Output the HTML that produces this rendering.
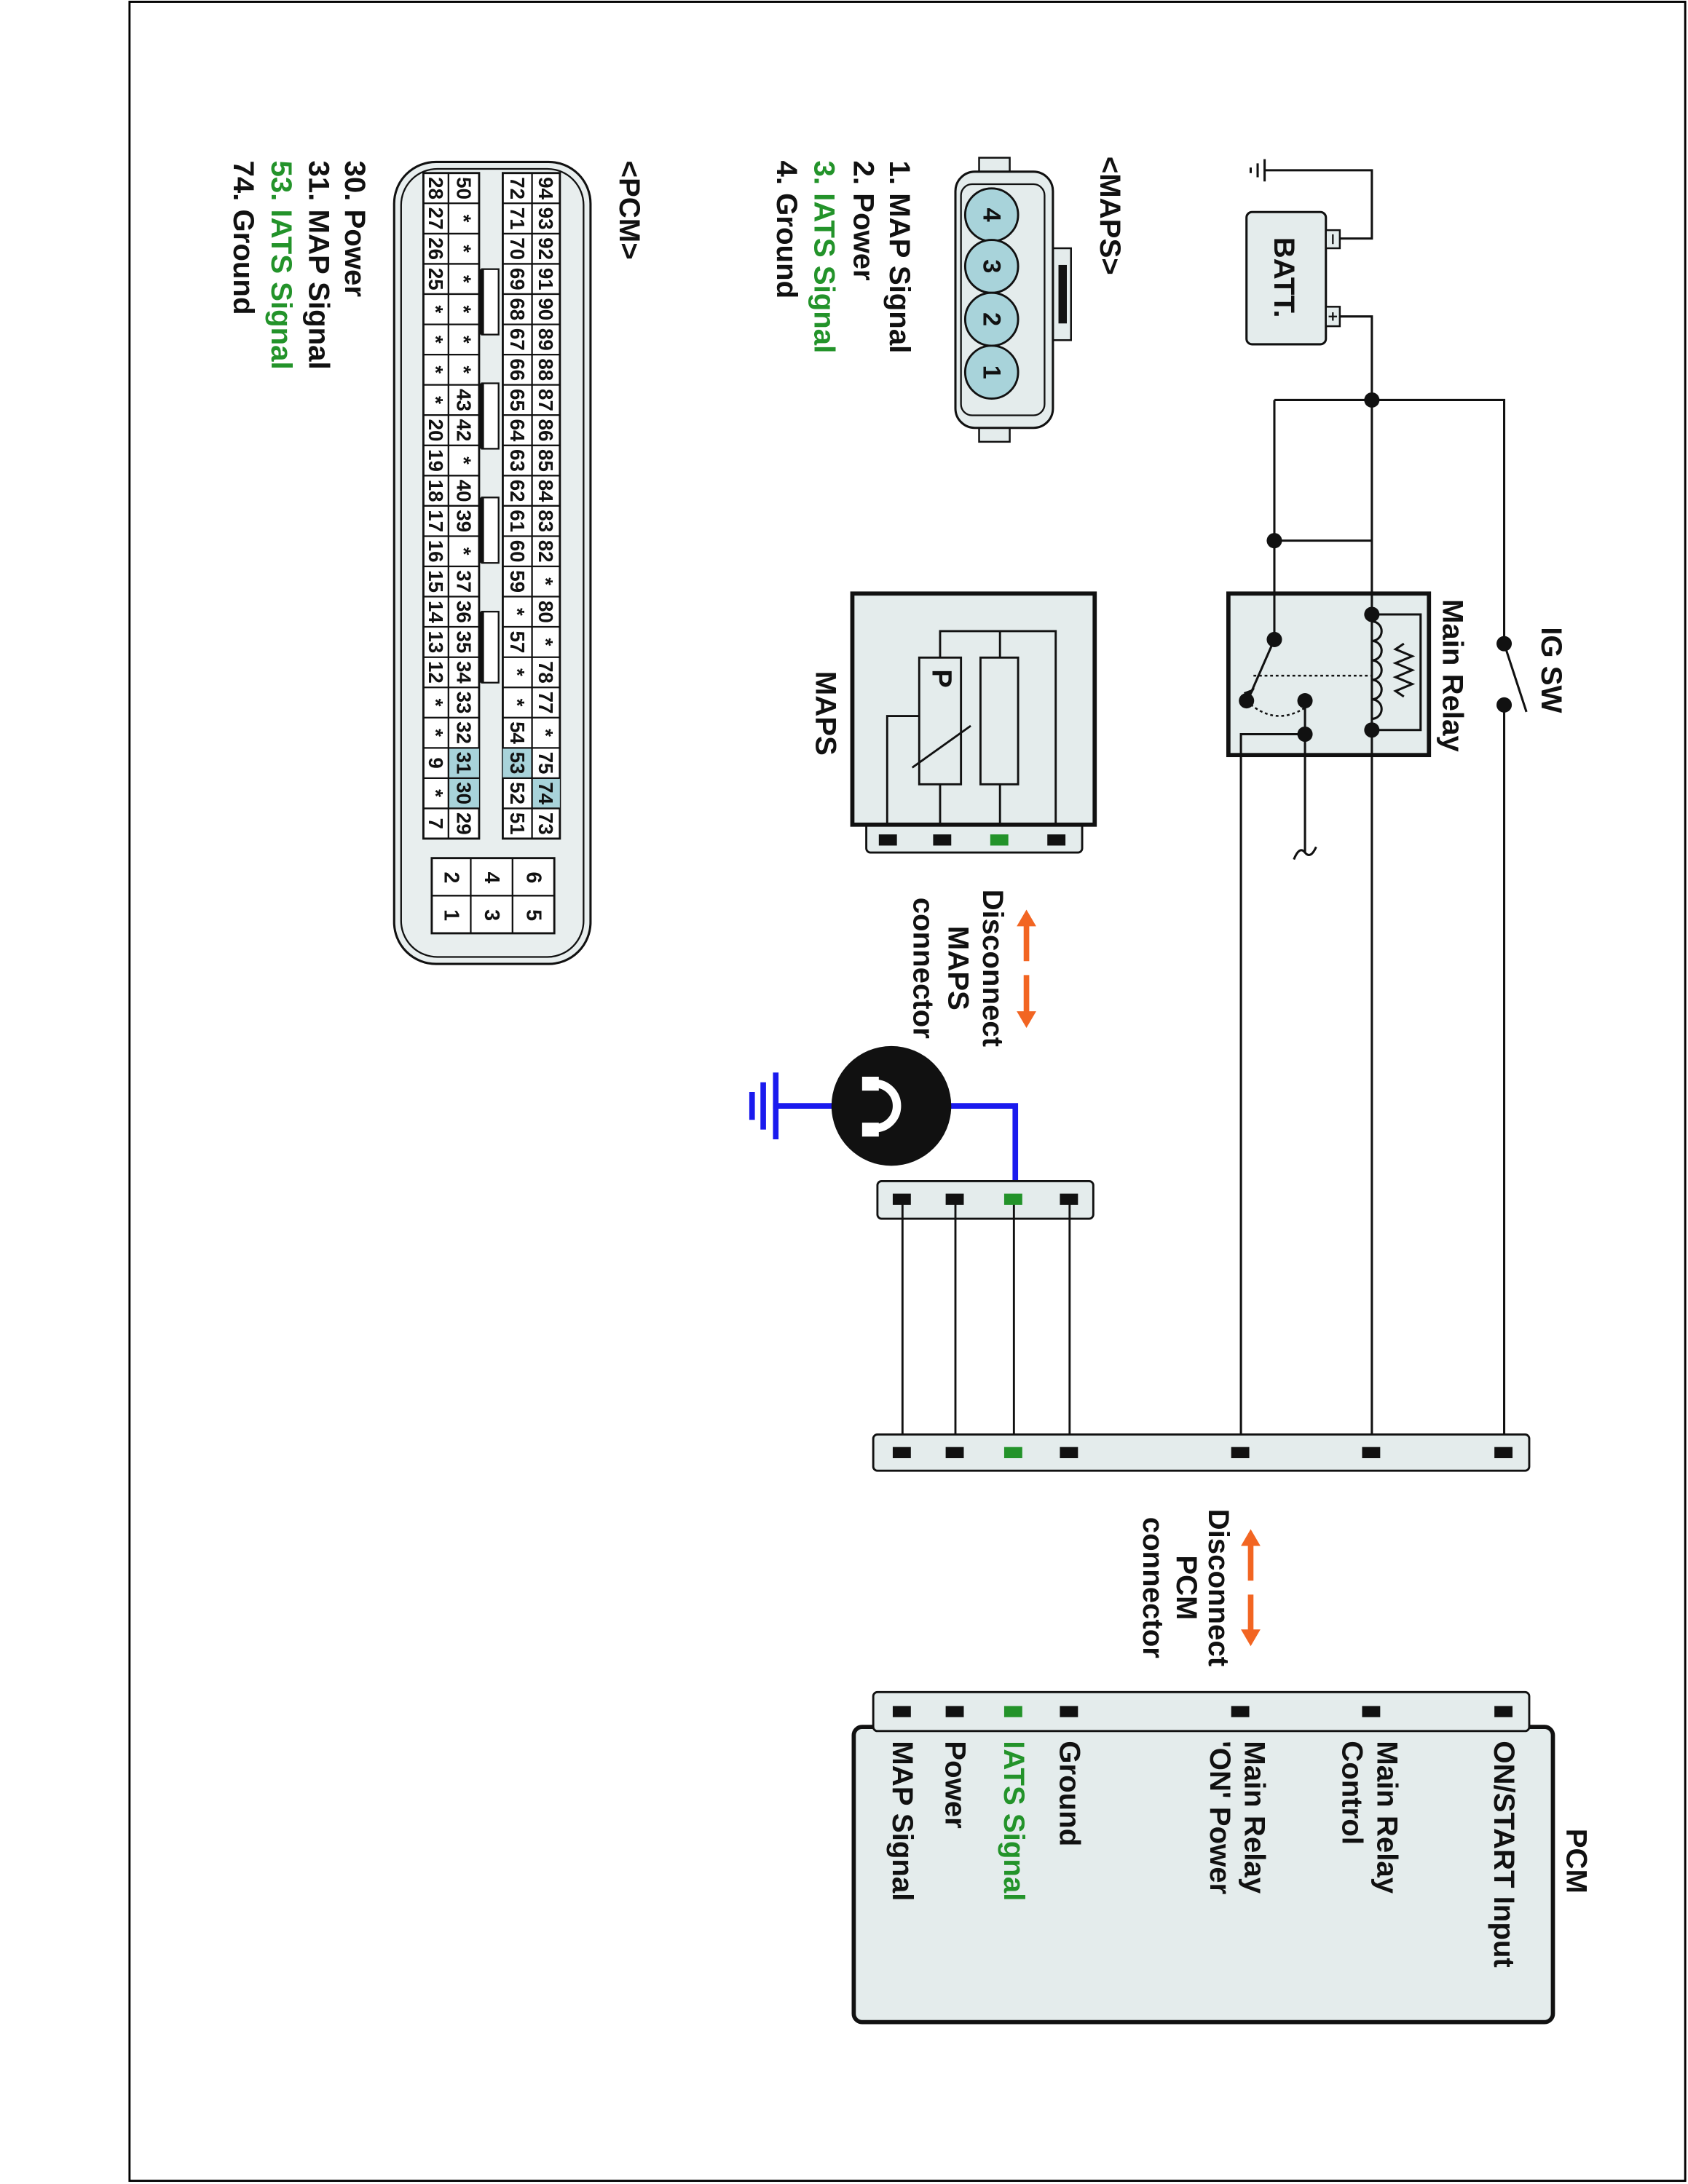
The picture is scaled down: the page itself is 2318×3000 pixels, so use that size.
<!DOCTYPE html>
<html><head><meta charset="utf-8"><style>
html,body{margin:0;padding:0;background:#fff}
svg{display:block}
text{font-family:"Liberation Sans",Arial,sans-serif;font-weight:bold;fill:#111}
.g{fill:#23932a}
.n{font-size:14.5px}
</style></head><body>
<svg width="2318" height="3000" viewBox="0 0 1212 1568" xmlns="http://www.w3.org/2000/svg">
<rect x="0" y="0" width="1212" height="1568" fill="#fff"/>
<rect x="93" y="1" width="1117" height="1565" fill="none" stroke="#000" stroke-width="1.5"/>

<rect x="882" y="426" width="144" height="116" fill="#e4ecec" stroke="#111" stroke-width="3"/>
<g stroke="#111" stroke-width="1.6" fill="none">
<path d="M962 171 H985 V122 H908"/>
<path d="M908 114 V130 M903 117 V127 M898 120 V124"/>
<path d="M962 227 H985 V1043"/>
<path d="M915 287 H1080 V462 M1080 506 V1043"/>
<path d="M1080 462 L1096 511"/>
<path d="M915 287 V459"/>
<path d="M915 388 H985"/>
<path d="M915 459 L897 500"/>
<path d="M985 441 H1020 V524 H985"/>
<path d="M1008 462 l-6 4 l12 5 l-12 5 l12 5 l-12 5 l12 5 l-12 5 l6 4"/>
<path d="M985 446 a7 7 0 0 1 0 14 a7 7 0 0 1 0 14 a7 7 0 0 1 0 14 a7 7 0 0 1 0 14 a7 7 0 0 1 0 14"/>
<path d="M937 503 V612 M929 617 q4 -10 8 -5 q4 5 8 -4"/>
<path d="M891 1043 V527 H937"/>
</g>
<path d="M900 485 H985" stroke="#111" stroke-width="1.3" stroke-dasharray="2 2" fill="none"/>
<path d="M895 503 Q915 522 937 508" stroke="#111" stroke-width="1.3" stroke-dasharray="2 2" fill="none"/>
<path d="M893 497 l8 -3 l-5 9 z" fill="#111"/>
<g fill="#111">
<circle cx="985" cy="287" r="5.5"/><circle cx="915" cy="388" r="5.5"/>
<circle cx="1080" cy="462" r="5.5"/><circle cx="1080" cy="506" r="5.5"/>
<circle cx="985" cy="441" r="5.5"/><circle cx="985" cy="524" r="5.5"/>
<circle cx="915" cy="459" r="5.5"/><circle cx="895" cy="503" r="5.5"/>
<circle cx="937" cy="503" r="5.5"/><circle cx="937" cy="527" r="5.5"/>
</g>
<rect x="895" y="152" width="57" height="95" rx="4" fill="#e4ecec" stroke="#111" stroke-width="1.6"/>
<rect x="952" y="165" width="10" height="13" fill="#e4ecec" stroke="#111" stroke-width="1.3"/>
<rect x="952" y="220" width="10" height="14" fill="#e4ecec" stroke="#111" stroke-width="1.3"/>
<path d="M957 168 V175 M954 227 H960 M957 224 V230" stroke="#111" stroke-width="1.2"/>
<text transform="translate(922,199) rotate(90)" text-anchor="middle" dominant-baseline="central" font-size="21">BATT.</text>
<text transform="translate(1114,450) rotate(90)" dominant-baseline="central" font-size="21">IG SW</text>
<text transform="translate(1043,430) rotate(90)" dominant-baseline="central" font-size="21">Main Relay</text>

<rect x="622" y="590" width="155" height="22" rx="3" fill="#e4ecec" stroke="#111" stroke-width="1.5"/>
<rect x="612" y="426" width="174" height="166" fill="#e4ecec" stroke="#111" stroke-width="3"/>
<g stroke="#111" stroke-width="1.5" fill="none">
<rect x="660" y="472" width="30" height="91"/>
<rect x="704" y="472" width="27" height="91"/>
<path d="M675 472 V453 H758 V592 M718 453 V472 M675 563 V592 M718 563 V592 M660 514 H637 V592 M655 551 L697 521"/>
</g>
<text transform="translate(676,487) rotate(90)" text-anchor="middle" dominant-baseline="central" font-size="20">P</text>
<rect x="631" y="599" width="13" height="8" fill="#111"/><rect x="670" y="599" width="13" height="8" fill="#111"/>
<rect x="711" y="599" width="13" height="8" fill="#23932a"/><rect x="752" y="599" width="13" height="8" fill="#111"/>
<text transform="translate(593,512) rotate(90)" text-anchor="middle" dominant-baseline="central" font-size="21">MAPS</text>

<g stroke="#f26522" stroke-width="4"><path d="M737 663 V690 M737 700 V728"/></g>
<path d="M737 653 l-7 12 h14 z M737 738 l-7 -12 h14 z" fill="#f26522"/>
<text transform="translate(713,695) rotate(90)" text-anchor="middle" dominant-baseline="central" font-size="21">Disconnect</text>
<text transform="translate(688,695) rotate(90)" text-anchor="middle" dominant-baseline="central" font-size="21">MAPS</text>
<text transform="translate(663,695) rotate(90)" text-anchor="middle" dominant-baseline="central" font-size="21">connector</text>

<path d="M682 794 H729 V862 M598 794 H555" stroke="#1a1aee" stroke-width="4" fill="none"/>
<path d="M557 770 V818 M548 777 V811 M540 784 V804" stroke="#1a1aee" stroke-width="4"/>
<circle cx="640" cy="794" r="43" fill="#111"/>
<path d="M628 778 A16 16 0 1 1 628 810" stroke="#fff" stroke-width="6" fill="none"/>
<path d="M619 773 h12 v10 h-12 z M619 806 h12 v10 h-12 z" fill="#fff"/>

<rect x="630" y="848" width="155" height="27" rx="3" fill="#e4ecec" stroke="#111" stroke-width="1.5"/>
<g stroke="#111" stroke-width="1.5"><path d="M648 861 V1043 M686 861 V1043 M768 861 V1043 M728 861 V1043"/></g>
<rect x="641" y="857" width="13" height="8" fill="#111"/><rect x="679" y="857" width="13" height="8" fill="#111"/>
<rect x="721" y="857" width="13" height="8" fill="#23932a"/><rect x="761" y="857" width="13" height="8" fill="#111"/>

<rect x="627" y="1030" width="471" height="26" rx="3" fill="#e4ecec" stroke="#111" stroke-width="1.5"/>
<g fill="#111">
<rect x="641" y="1039" width="13" height="8"/><rect x="679" y="1039" width="13" height="8"/>
<rect x="761" y="1039" width="13" height="8"/><rect x="884" y="1039" width="13" height="8"/>
<rect x="978" y="1039" width="13" height="8"/><rect x="1073" y="1039" width="13" height="8"/>
</g>
<rect x="721" y="1039" width="13" height="8" fill="#23932a"/>

<g stroke="#f26522" stroke-width="4"><path d="M898 1108 V1135 M898 1145 V1172"/></g>
<path d="M898 1098 l-7 12 h14 z M898 1182 l-7 -12 h14 z" fill="#f26522"/>
<text transform="translate(875,1140) rotate(90)" text-anchor="middle" dominant-baseline="central" font-size="21">Disconnect</text>
<text transform="translate(852,1140) rotate(90)" text-anchor="middle" dominant-baseline="central" font-size="21">PCM</text>
<text transform="translate(828,1140) rotate(90)" text-anchor="middle" dominant-baseline="central" font-size="21">connector</text>

<rect x="613" y="1240" width="502" height="212" rx="6" fill="#e4ecec" stroke="#111" stroke-width="3"/>
<rect x="627" y="1215" width="471" height="28" rx="3" fill="#e4ecec" stroke="#111" stroke-width="1.5"/>
<g fill="#111">
<rect x="641" y="1225" width="13" height="8"/><rect x="679" y="1225" width="13" height="8"/>
<rect x="761" y="1225" width="13" height="8"/><rect x="884" y="1225" width="13" height="8"/>
<rect x="978" y="1225" width="13" height="8"/><rect x="1073" y="1225" width="13" height="8"/>
</g>
<rect x="721" y="1225" width="13" height="8" fill="#23932a"/>
<text transform="translate(1132,1313) rotate(90)" dominant-baseline="central" font-size="21">PCM</text>
<g font-size="21">
<text transform="translate(1080,1250) rotate(90)" dominant-baseline="central">ON/START Input</text>
<text transform="translate(996,1250) rotate(90)" dominant-baseline="central">Main Relay</text>
<text transform="translate(971,1250) rotate(90)" dominant-baseline="central">Control</text>
<text transform="translate(901,1250) rotate(90)" dominant-baseline="central">Main Relay</text>
<text transform="translate(876,1250) rotate(90)" dominant-baseline="central">'ON' Power</text>
<text transform="translate(768,1250) rotate(90)" dominant-baseline="central">Ground</text>
<text class="g" transform="translate(728,1250) rotate(90)" dominant-baseline="central">IATS Signal</text>
<text transform="translate(686,1250) rotate(90)" dominant-baseline="central">Power</text>
<text transform="translate(648,1250) rotate(90)" dominant-baseline="central">MAP Signal</text>
</g>

<rect x="703" y="113" width="22" height="12" fill="#e4ecec" stroke="#111" stroke-width="1.3"/>
<rect x="703" y="305" width="22" height="12" fill="#e4ecec" stroke="#111" stroke-width="1.3"/>
<rect x="755" y="178" width="14" height="66" fill="#e4ecec" stroke="#111" stroke-width="1.3"/>
<rect x="760" y="190" width="6" height="42" fill="#111"/>
<rect x="686" y="123" width="70" height="184" rx="14" fill="#e4ecec" stroke="#111" stroke-width="1.6"/>
<rect x="690" y="132" width="60" height="166" rx="8" fill="none" stroke="#111" stroke-width="1.2"/>
<g fill="#a8d3da" stroke="#111" stroke-width="1.5">
<circle cx="712" cy="154" r="19"/><circle cx="712" cy="191" r="19"/>
<circle cx="712" cy="229" r="19"/><circle cx="712" cy="267" r="19"/>
</g>
<g font-size="18">
<text transform="translate(712,154) rotate(90)" text-anchor="middle" dominant-baseline="central">4</text>
<text transform="translate(712,191) rotate(90)" text-anchor="middle" dominant-baseline="central">3</text>
<text transform="translate(712,229) rotate(90)" text-anchor="middle" dominant-baseline="central">2</text>
<text transform="translate(712,267) rotate(90)" text-anchor="middle" dominant-baseline="central">1</text>
</g>
<g font-size="21">
<text transform="translate(797,112) rotate(90)" dominant-baseline="central">&lt;MAPS&gt;</text>
<text transform="translate(646,115) rotate(90)" dominant-baseline="central">1. MAP Signal</text>
<text transform="translate(620,115) rotate(90)" dominant-baseline="central">2. Power</text>
<text class="g" transform="translate(592,115) rotate(90)" dominant-baseline="central">3. IATS Signal</text>
<text transform="translate(565,115) rotate(90)" dominant-baseline="central">4. Ground</text>
<text transform="translate(452,115) rotate(90)" dominant-baseline="central">&lt;PCM&gt;</text>
<text transform="translate(255,115) rotate(90)" dominant-baseline="central">30. Power</text>
<text transform="translate(229,115) rotate(90)" dominant-baseline="central">31. MAP Signal</text>
<text class="g" transform="translate(202,115) rotate(90)" dominant-baseline="central">53. IATS Signal</text>
<text transform="translate(175,115) rotate(90)" dominant-baseline="central">74. Ground</text>
</g>

<rect x="283" y="116" width="141" height="576" rx="30" fill="#e8eeee" stroke="#111" stroke-width="1.6"/>
<rect x="288" y="121" width="131" height="566" rx="26" fill="none" stroke="#111" stroke-width="1.2"/>
<rect x="304" y="124" width="40" height="478" fill="#fff" stroke="#111" stroke-width="1.5"/>
<rect x="361" y="124" width="41" height="478" fill="#fff" stroke="#111" stroke-width="1.5"/>
<g fill="#a8d3da">
<rect x="382" y="558.6" width="20" height="21.7"/>
<rect x="361" y="536.9" width="21" height="21.7"/>
<rect x="322" y="536.9" width="22" height="43.4"/>
</g>
<g stroke="#111" stroke-width="1.2" fill="none">
<path d="M322 124 V602 M382 124 V602"/>
<path d="M304 145.7H344M304 167.5H344M304 189.2H344M304 210.9H344M304 232.7H344M304 254.4H344M304 276.1H344M304 297.8H344M304 319.6H344M304 341.3H344M304 363H344M304 384.8H344M304 406.5H344M304 428.2H344M304 449.9H344M304 471.7H344M304 493.4H344M304 515.1H344M304 536.9H344M304 558.6H344M304 580.3H344"/>
<path d="M361 145.7H402M361 167.5H402M361 189.2H402M361 210.9H402M361 232.7H402M361 254.4H402M361 276.1H402M361 297.8H402M361 319.6H402M361 341.3H402M361 363H402M361 384.8H402M361 406.5H402M361 428.2H402M361 449.9H402M361 471.7H402M361 493.4H402M361 515.1H402M361 536.9H402M361 558.6H402M361 580.3H402"/>
</g>
<g fill="#fff" stroke="#111" stroke-width="1.2">
<rect x="346" y="193" width="12" height="47"/><rect x="346" y="275" width="12" height="47"/>
<rect x="346" y="357" width="12" height="47"/><rect x="346" y="439" width="12" height="51"/>
</g>
<path d="M346 193V240M346 275V322M346 357V404M346 439V490" stroke="#111" stroke-width="3"/>
<rect x="310" y="616" width="88" height="54" fill="#fff" stroke="#111" stroke-width="1.5"/>
<path d="M310 643H398M338 616V670M368 616V670" stroke="#111" stroke-width="1.2"/>
<g font-size="15">
<text transform="translate(324,630) rotate(90)" text-anchor="middle" dominant-baseline="central">2</text>
<text transform="translate(324,657) rotate(90)" text-anchor="middle" dominant-baseline="central">1</text>
<text transform="translate(353,630) rotate(90)" text-anchor="middle" dominant-baseline="central">4</text>
<text transform="translate(353,657) rotate(90)" text-anchor="middle" dominant-baseline="central">3</text>
<text transform="translate(383,630) rotate(90)" text-anchor="middle" dominant-baseline="central">6</text>
<text transform="translate(383,657) rotate(90)" text-anchor="middle" dominant-baseline="central">5</text>
</g>
<g class="n" text-anchor="middle" dominant-baseline="central">
<text transform="translate(392,134.9) rotate(90)">94</text><text transform="translate(392,156.6) rotate(90)">93</text><text transform="translate(392,178.3) rotate(90)">92</text><text transform="translate(392,200.1) rotate(90)">91</text><text transform="translate(392,221.8) rotate(90)">90</text><text transform="translate(392,243.5) rotate(90)">89</text><text transform="translate(392,265.2) rotate(90)">88</text><text transform="translate(392,287) rotate(90)">87</text><text transform="translate(392,308.7) rotate(90)">86</text><text transform="translate(392,330.4) rotate(90)">85</text><text transform="translate(392,352.2) rotate(90)">84</text><text transform="translate(392,373.9) rotate(90)">83</text><text transform="translate(392,395.6) rotate(90)">82</text><text transform="translate(392,417.3) rotate(90)">*</text><text transform="translate(392,439.1) rotate(90)">80</text><text transform="translate(392,460.8) rotate(90)">*</text><text transform="translate(392,482.5) rotate(90)">78</text><text transform="translate(392,504.3) rotate(90)">77</text><text transform="translate(392,526) rotate(90)">*</text><text transform="translate(392,547.7) rotate(90)">75</text><text transform="translate(392,569.4) rotate(90)">74</text><text transform="translate(392,591.2) rotate(90)">73</text>
<text transform="translate(371.5,134.9) rotate(90)">72</text><text transform="translate(371.5,156.6) rotate(90)">71</text><text transform="translate(371.5,178.3) rotate(90)">70</text><text transform="translate(371.5,200.1) rotate(90)">69</text><text transform="translate(371.5,221.8) rotate(90)">68</text><text transform="translate(371.5,243.5) rotate(90)">67</text><text transform="translate(371.5,265.2) rotate(90)">66</text><text transform="translate(371.5,287) rotate(90)">65</text><text transform="translate(371.5,308.7) rotate(90)">64</text><text transform="translate(371.5,330.4) rotate(90)">63</text><text transform="translate(371.5,352.2) rotate(90)">62</text><text transform="translate(371.5,373.9) rotate(90)">61</text><text transform="translate(371.5,395.6) rotate(90)">60</text><text transform="translate(371.5,417.3) rotate(90)">59</text><text transform="translate(371.5,439.1) rotate(90)">*</text><text transform="translate(371.5,460.8) rotate(90)">57</text><text transform="translate(371.5,482.5) rotate(90)">*</text><text transform="translate(371.5,504.3) rotate(90)">*</text><text transform="translate(371.5,526) rotate(90)">54</text><text transform="translate(371.5,547.7) rotate(90)">53</text><text transform="translate(371.5,569.4) rotate(90)">52</text><text transform="translate(371.5,591.2) rotate(90)">51</text>
<text transform="translate(333,134.9) rotate(90)">50</text><text transform="translate(333,156.6) rotate(90)">*</text><text transform="translate(333,178.3) rotate(90)">*</text><text transform="translate(333,200.1) rotate(90)">*</text><text transform="translate(333,221.8) rotate(90)">*</text><text transform="translate(333,243.5) rotate(90)">*</text><text transform="translate(333,265.2) rotate(90)">*</text><text transform="translate(333,287) rotate(90)">43</text><text transform="translate(333,308.7) rotate(90)">42</text><text transform="translate(333,330.4) rotate(90)">*</text><text transform="translate(333,352.2) rotate(90)">40</text><text transform="translate(333,373.9) rotate(90)">39</text><text transform="translate(333,395.6) rotate(90)">*</text><text transform="translate(333,417.3) rotate(90)">37</text><text transform="translate(333,439.1) rotate(90)">36</text><text transform="translate(333,460.8) rotate(90)">35</text><text transform="translate(333,482.5) rotate(90)">34</text><text transform="translate(333,504.3) rotate(90)">33</text><text transform="translate(333,526) rotate(90)">32</text><text transform="translate(333,547.7) rotate(90)">31</text><text transform="translate(333,569.4) rotate(90)">30</text><text transform="translate(333,591.2) rotate(90)">29</text>
<text transform="translate(313,134.9) rotate(90)">28</text><text transform="translate(313,156.6) rotate(90)">27</text><text transform="translate(313,178.3) rotate(90)">26</text><text transform="translate(313,200.1) rotate(90)">25</text><text transform="translate(313,221.8) rotate(90)">*</text><text transform="translate(313,243.5) rotate(90)">*</text><text transform="translate(313,265.2) rotate(90)">*</text><text transform="translate(313,287) rotate(90)">*</text><text transform="translate(313,308.7) rotate(90)">20</text><text transform="translate(313,330.4) rotate(90)">19</text><text transform="translate(313,352.2) rotate(90)">18</text><text transform="translate(313,373.9) rotate(90)">17</text><text transform="translate(313,395.6) rotate(90)">16</text><text transform="translate(313,417.3) rotate(90)">15</text><text transform="translate(313,439.1) rotate(90)">14</text><text transform="translate(313,460.8) rotate(90)">13</text><text transform="translate(313,482.5) rotate(90)">12</text><text transform="translate(313,504.3) rotate(90)">*</text><text transform="translate(313,526) rotate(90)">*</text><text transform="translate(313,547.7) rotate(90)">9</text><text transform="translate(313,569.4) rotate(90)">*</text><text transform="translate(313,591.2) rotate(90)">7</text>
</g>
</svg>
</body></html>
